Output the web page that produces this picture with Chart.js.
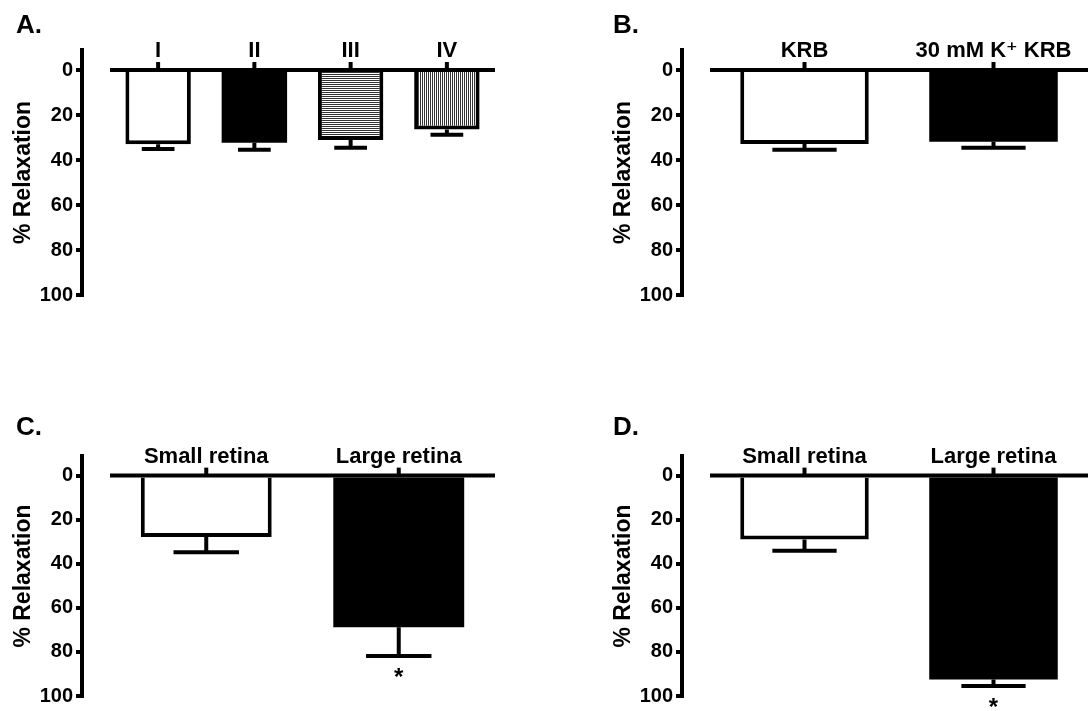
<!DOCTYPE html>
<html>
<head>
<meta charset="utf-8">
<script src="https://cdn.jsdelivr.net/npm/chart.js@4.4.1/dist/chart.umd.min.js"></script>
<style>
  body { margin: 0; background: #fff; }
  #wrap { position: relative; width: 1089px; height: 711px; }
  canvas { position: absolute; }
</style>
</head>
<body>
<div id="wrap">
  <canvas id="chartA" width="544" height="360" style="left:0;top:0"></canvas>
  <canvas id="chartB" width="529" height="360" style="left:560px;top:0"></canvas>
  <canvas id="chartC" width="544" height="311" style="left:0;top:400px"></canvas>
  <canvas id="chartD" width="529" height="311" style="left:560px;top:400px"></canvas>
</div>
<script>
// panel A
var labelsA = ['I', 'II', 'III', 'IV'];
var meansA = [33, 32.3, 31.1, 26.4];
var errA = [2.1, 3.1, 3.4, 2.4];
var starsA = ['', '', '', ''];
// panel B
var labelsB = ['KRB', '30 mM K\u207A KRB'];
var meansB = [32.9, 31.9];
var errB = [2.5, 2.6];
var starsB = ['', ''];
// panel C
var labelsC = ['Small retina', 'Large retina'];
var meansC = [27.8, 68.8];
var errC = [7.0, 13.0];
var starsC = ['', '*'];
// panel D
var labelsD = ['Small retina', 'Large retina'];
var meansD = [29.0, 92.5];
var errD = [5.1, 3.0];
var starsD = ['', '*'];

var yTicks = [0, 20, 40, 60, 80, 100];

var FONT = "'Liberation Sans', Arial, 'DejaVu Sans', sans-serif";
var LW = 4;
Chart.defaults.font.family = FONT;
Chart.defaults.font.weight = 'bold';
Chart.defaults.color = '#000';

function stripes(canvasId, dir) {
  var c = document.createElement('canvas');
  c.width = 2; c.height = 2;
  var g = c.getContext('2d');
  g.fillStyle = '#fff';
  g.fillRect(0, 0, 2, 2);
  g.fillStyle = '#333';
  if (dir === 'h') g.fillRect(0, 0, 2, 1);
  else g.fillRect(0, 0, 1, 2);
  return document.getElementById(canvasId).getContext('2d').createPattern(c, 'repeat');
}

// error bars, stars, the 0 line with category labels, and the panel letter
var panelPlugin = {
  id: 'panel',
  afterDatasetsDraw: function(chart, args, opts) {
    var ctx = chart.ctx, x = chart.scales.x, y = chart.scales.y, area = chart.chartArea;
    var meta = chart.getDatasetMeta(0);
    var vals = chart.data.datasets[0].data;
    ctx.save();
    ctx.strokeStyle = '#000';
    ctx.fillStyle = '#000';
    ctx.lineWidth = LW;

    meta.data.forEach(function(bar, i) {
      var top = y.getPixelForValue(vals[i]);
      var end = y.getPixelForValue(vals[i] + opts.errors[i]);
      var half = bar.width / 4;
      ctx.beginPath();
      ctx.moveTo(bar.x, top);
      ctx.lineTo(bar.x, end);
      ctx.moveTo(bar.x - half, end);
      ctx.lineTo(bar.x + half, end);
      ctx.stroke();
      if (opts.stars[i]) {
        ctx.font = 'bold 24px ' + FONT;
        ctx.textAlign = 'center';
        ctx.textBaseline = 'alphabetic';
        ctx.fillText(opts.stars[i], bar.x, end + 29);
      }
    });

    var y0 = y.getPixelForValue(0);
    ctx.beginPath();
    ctx.moveTo(area.left, y0);
    ctx.lineTo(area.right, y0);
    ctx.stroke();
    ctx.font = 'bold 22px ' + FONT;
    ctx.textAlign = 'center';
    ctx.textBaseline = 'alphabetic';
    x.getLabels().forEach(function(lab, i) {
      var px = x.getPixelForValue(i);
      ctx.beginPath();
      ctx.moveTo(px, y0);
      ctx.lineTo(px, y0 - 8);
      ctx.stroke();
      ctx.fillText(lab, px, y0 - 13);
    });

    ctx.font = 'bold 26px ' + FONT;
    ctx.textAlign = 'left';
    ctx.fillText(opts.letter, opts.letterX, opts.letterY);
    ctx.restore();
  }
};

function fixWidth(w) {
  return function(scale) { scale.width = w; };
}

function makeChart(id, labels, means, errs, stars, colors, p) {
  return new Chart(document.getElementById(id), {
    type: 'bar',
    data: {
      labels: labels,
      datasets: [{
        data: means,
        yAxisID: 'y',
        backgroundColor: colors,
        borderColor: '#000',
        // solid black bars need no separate outline
        borderWidth: colors.map(function(c) { return c === '#000' ? 0 : LW; }),
        barPercentage: 0.68,
        categoryPercentage: 1
      }]
    },
    options: {
      responsive: false,
      animation: false,
      layout: { padding: p.padding },
      plugins: {
        legend: { display: false },
        tooltip: { enabled: false },
        panel: { errors: errs, stars: stars, letter: p.letter, letterX: p.letterX, letterY: p.letterY }
      },
      scales: {
        x: { display: false },
        y: {
          type: 'linear',
          position: 'left',
          weight: 1,
          reverse: true,
          min: -8.9,
          max: 100,
          afterFit: fixWidth(82),
          afterBuildTicks: function(scale) {
            scale.ticks = yTicks.map(function(v) { return { value: v }; });
          },
          ticks: { font: { size: 20, weight: 'bold' }, color: '#000', padding: 3 },
          grid: { display: true, drawOnChartArea: false, drawTicks: true, tickLength: 6, lineWidth: LW, color: '#000' },
          border: { display: true, width: LW, color: '#000' },
          title: { display: true, text: '% Relaxation', font: { size: 23, weight: 'bold' }, color: '#000', padding: { top: 10, bottom: 0 } }
        },
        gap: {
          type: 'linear',
          position: 'left',
          weight: 0,
          afterFit: fixWidth(28),
          ticks: { display: false },
          grid: { display: false },
          border: { display: false }
        }
      }
    },
    plugins: [panelPlugin]
  });
}

makeChart('chartA', labelsA, meansA, errA, starsA,
  ['#fff', '#000', stripes('chartA', 'h'), stripes('chartA', 'v')],
  { padding: { left: 0, right: 49, top: 50, bottom: 65 }, letter: 'A.', letterX: 16, letterY: 33 });

makeChart('chartB', labelsB, meansB, errB, starsB, ['#fff', '#000'],
  { padding: { left: 40, right: 1, top: 50, bottom: 65 }, letter: 'B.', letterX: 53, letterY: 33 });

makeChart('chartC', labelsC, meansC, errC, starsC, ['#fff', '#000'],
  { padding: { left: 0, right: 49, top: 56, bottom: 11 }, letter: 'C.', letterX: 16, letterY: 35 });

makeChart('chartD', labelsD, meansD, errD, starsD, ['#fff', '#000'],
  { padding: { left: 40, right: 1, top: 56, bottom: 11 }, letter: 'D.', letterX: 53, letterY: 35 });
</script>
</body>
</html>
